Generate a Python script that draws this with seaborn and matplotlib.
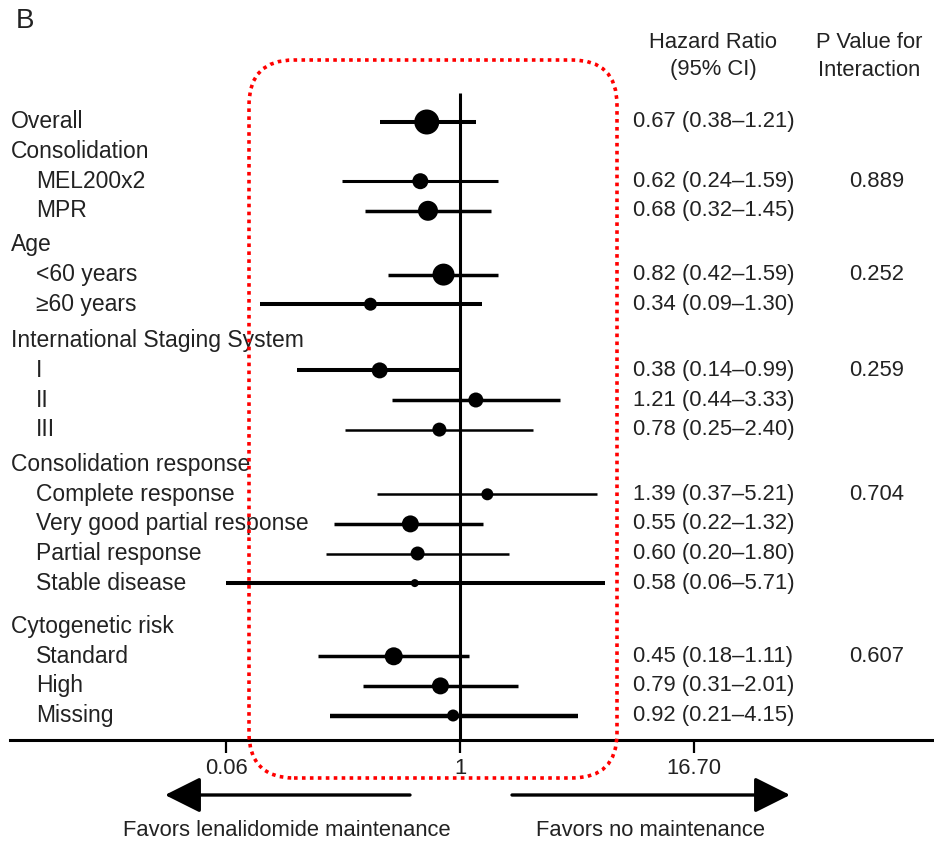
import numpy as np
import pandas as pd
import matplotlib
matplotlib.use("Agg")
import matplotlib.pyplot as plt
import seaborn as sns
from matplotlib.patches import FancyBboxPatch

# ---------------- data ----------------
labels = ["Overall", "Consolidation", "MEL200x2", "MPR", "Age", "<60 years", "≥60 years",
          "International Staging System", "I", "II", "III", "Consolidation response",
          "Complete response", "Very good partial response", "Partial response", "Stable disease",
          "Cytogenetic risk", "Standard", "High", "Missing"]
is_sub = [False, False, True, True, False, True, True, False, True, True, True, False,
          True, True, True, True, False, True, True, True]
hr = [0.67, np.nan, 0.62, 0.68, np.nan, 0.82, 0.34, np.nan, 0.38, 1.21, 0.78, np.nan,
      1.39, 0.55, 0.60, 0.58, np.nan, 0.45, 0.79, 0.92]
ci_lo = [0.38, np.nan, 0.24, 0.32, np.nan, 0.42, 0.09, np.nan, 0.14, 0.44, 0.25, np.nan,
         0.37, 0.22, 0.20, 0.06, np.nan, 0.18, 0.31, 0.21]
ci_hi = [1.21, np.nan, 1.59, 1.45, np.nan, 1.59, 1.30, np.nan, 0.99, 3.33, 2.40, np.nan,
         5.21, 1.32, 1.80, 5.71, np.nan, 1.11, 2.01, 4.15]
p_interaction = ["", "", "0.889", "", "", "0.252", "", "", "0.259", "", "", "",
                 "0.704", "", "", "", "", "0.607", "", ""]
tick_values = [0.06, 1, 16.70]
tick_labels = ["0.06", "1", "16.70"]

# ---------------- styles ----------------
marker_diam_px = [25, 0, 16, 20, 0, 22, 13, 0, 16, 15, 14, 0, 12, 17, 14, 8, 0, 18, 17, 12]
line_w = [2.9, 0, 2.2, 2.5, 0, 2.5, 2.9, 0, 2.9, 2.5, 1.8, 0, 1.8, 2.5, 1.8, 2.9, 0, 2.5, 2.5, 3.2]

W, H = 934, 841
DPI = 100
sns.set_theme(style="white")
plt.rcParams["font.family"] = ["Liberation Sans", "DejaVu Sans"]
TXT = "#222222"
FS = 15.8
FS_LAB = 16.5

fig = plt.figure(figsize=(W / DPI, H / DPI), dpi=DPI)
fig.patch.set_facecolor("white")
axis_y = 740
ax = fig.add_axes([0, (H - axis_y) / H, 1, axis_y / H])
ax.set_facecolor("none")

# log x scale: value 1 at pixel 460, 83 px per natural-log unit
k = 83.0
x1 = 460.0
ax.set_xscale("log")
ax.set_xlim(np.exp(-x1 / k), np.exp((W - x1) / k))
ax.set_ylim(axis_y, 0)

# row positions (pixel-like units)
gaps = {4: 4.6, 7: 7.0, 11: 5.5, 16: 14.0}
ys = []
y = 122.0
for i in range(len(labels)):
    if i > 0:
        y += 29.6 + gaps.get(i, 0)
    ys.append(y)

df = pd.DataFrame({"label": labels, "hr": hr, "lo": ci_lo, "hi": ci_hi,
                   "y": ys, "d": marker_diam_px, "lw": line_w})
dd = df.dropna(subset=["hr"]).copy()
dd["area"] = (dd["d"] * 0.72) ** 2

# vertical reference line at HR = 1
ax.vlines(1, 93, axis_y, color="black", lw=2.2, zorder=2)

# CI lines
for _, r in dd.iterrows():
    ax.hlines(r["y"], r["lo"], r["hi"], color="black", lw=r["lw"], zorder=3)

amin, amax = dd["area"].min(), dd["area"].max()
sns.scatterplot(data=dd, x="hr", y="y", size="area", sizes=(amin, amax),
                size_norm=(amin, amax), color="black", edgecolor="black",
                linewidth=0, legend=False, ax=ax, zorder=4)

# axis styling
for s in ["top", "left", "right"]:
    ax.spines[s].set_visible(False)
ax.spines["bottom"].set_color("black")
ax.spines["bottom"].set_linewidth(2.2)
ax.spines["bottom"].set_bounds(np.exp((10 - x1) / k), np.exp((W - x1) / k))
ax.set_xticks(tick_values)
ax.set_xticklabels(tick_labels)
ax.xaxis.set_minor_locator(matplotlib.ticker.NullLocator())
ax.tick_params(axis="x", direction="out", length=9, width=1.6, pad=4,
               labelsize=FS, labelcolor=TXT, color="black", bottom=True)
ax.set_yticks([])
ax.set_xlabel("")
ax.set_ylabel("")
ax.grid(False)

# left labels
blend = matplotlib.transforms.blended_transform_factory(fig.transFigure, ax.transData)
for lab, sub, yy in zip(labels, is_sub, ys):
    x = 36 if sub else 11
    ax.text(x / W, yy, lab, transform=blend, ha="left", va="center",
            fontsize=FS_LAB, color=TXT)

# HR text column and p-values
for h, lo_, hi_, p, yy in zip(hr, ci_lo, ci_hi, p_interaction, ys):
    if not np.isnan(h):
        ax.text(633 / W, yy, f"{h:.2f} ({lo_:.2f}\u2013{hi_:.2f})", transform=blend,
                ha="left", va="center", fontsize=FS, color=TXT)
    if p:
        ax.text(877 / W, yy, p, transform=blend, ha="center", va="center",
                fontsize=FS, color=TXT)

def fpx(x, y):
    return (x / W, 1 - y / H)

# headers
fig.text(*fpx(713, 43), "Hazard Ratio", ha="center", va="center", fontsize=FS, color=TXT)
fig.text(*fpx(713, 70), "(95% CI)", ha="center", va="center", fontsize=FS, color=TXT)
fig.text(*fpx(869, 43), "P Value for", ha="center", va="center", fontsize=FS, color=TXT)
fig.text(*fpx(869, 70), "Interaction", ha="center", va="center", fontsize=FS, color=TXT)
fig.text(*fpx(16, 21), "B", ha="left", va="center", fontsize=20, color=TXT)

# direction arrows
arrow_kw = dict(arrowstyle="-|>,head_length=1.1,head_width=0.55", color="black",
                lw=2.4, shrinkA=0, shrinkB=0)
fig.add_artist(matplotlib.patches.FancyArrowPatch(fpx(410, 795), fpx(165, 795),
               transform=fig.transFigure, mutation_scale=20, **arrow_kw))
fig.add_artist(matplotlib.patches.FancyArrowPatch(fpx(512, 795), fpx(790, 795),
               transform=fig.transFigure, mutation_scale=20, **arrow_kw))
fig.text(*fpx(287, 830), "Favors lenalidomide maintenance", ha="center", va="center",
         fontsize=FS, color=TXT)
fig.text(*fpx(651, 830), "Favors no maintenance", ha="center", va="center",
         fontsize=FS, color=TXT)

# red dotted rounded highlight box (inches coordinates keep corners circular)
bx0, bx1, by0, by1 = 249, 617, 60, 778
box = FancyBboxPatch((bx0 / DPI, (H - by1) / DPI), (bx1 - bx0) / DPI, (by1 - by0) / DPI,
                     boxstyle="round,pad=0,rounding_size=0.45",
                     transform=fig.dpi_scale_trans, fill=False, edgecolor="#ff0000",
                     lw=2.6, linestyle=(0, (1, 1.2)), zorder=10)
fig.add_artist(box)

fig.savefig("out.png", dpi=DPI, facecolor="white")
